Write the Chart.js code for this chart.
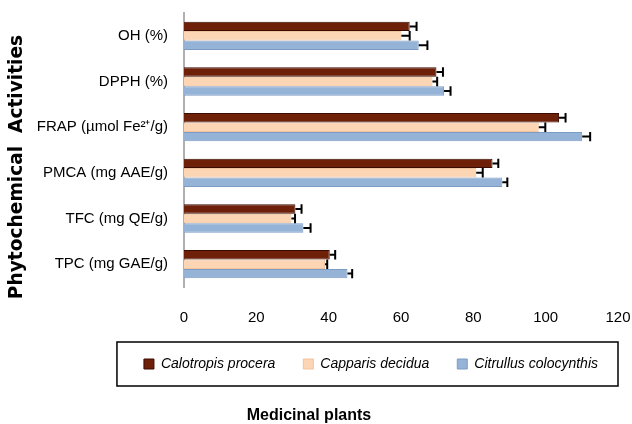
<!DOCTYPE html>
<html>
<head>
<meta charset="utf-8">
<script src="https://cdn.jsdelivr.net/npm/chart.js@4.4.1/dist/chart.umd.min.js"></script>
<style>
html,body{margin:0;padding:0;background:#fff;}
#wrap{width:632px;height:424px;}
</style>
</head>
<body>
<div id="wrap"><canvas id="c" width="632" height="424"></canvas></div>
<script>
const categories = ['OH (%)', 'DPPH (%)', 'FRAP (µmol Fe²⁺/g)', 'PMCA (mg AAE/g)', 'TFC (mg QE/g)', 'TPC (mg GAE/g)'];
const calotropis = [62.4, 69.8, 103.7, 85.3, 30.8, 40.3];
const capparis   = [60.1, 68.7, 98.1, 80.8, 29.7, 39.0];
const citrullus  = [64.9, 71.9, 110.1, 88.0, 33.0, 45.2];
const calotropisErr = [1.9, 1.8, 1.8, 1.6, 1.7, 1.5];
const capparisErr   = [2.3, 1.3, 1.8, 1.8, 1.0, 0.6];
const citrullusErr  = [2.4, 1.8, 2.2, 1.4, 2.0, 1.3];
const xTicks = [0, 20, 40, 60, 80, 100, 120];
const yAxisTitle = 'Phytochemical  Activities';
const xAxisTitle = 'Medicinal plants';

const FONT = "'Liberation Sans', Arial, sans-serif";

const errorBars = {
  id: 'errorBars',
  afterDatasetsDraw(chart) {
    const ctx = chart.ctx;
    const xs = chart.scales.x;
    chart.data.datasets.forEach((ds, i) => {
      const meta = chart.getDatasetMeta(i);
      meta.data.forEach((bar, j) => {
        const v = ds.data[j], e = ds.errors[j];
        const x0 = bar.x, x1 = xs.getPixelForValue(v + e);
        const h = bar.height;
        ctx.save();
        ctx.strokeStyle = '#000';
        ctx.lineWidth = 2;
        ctx.beginPath();
        ctx.moveTo(x0, bar.y);
        ctx.lineTo(x1, bar.y);
        ctx.moveTo(x1, bar.y - h / 2);
        ctx.lineTo(x1, bar.y + h / 2);
        ctx.stroke();
        ctx.restore();
      });
    });
  }
};

const legendShift = {
  id: 'legendShift',
  afterLayout(chart) {
    const lg = chart.legend;
    lg.right += 8;
    if (lg.legendHitBoxes) lg.legendHitBoxes.forEach(h => { h.left += 8; });
  }
};

const legendBorder = {
  id: 'legendBorder',
  afterDraw(chart) {
    const boxes = chart.legend.legendHitBoxes;
    if (!boxes || !boxes.length) return;
    let l = Infinity, r = -Infinity, t = Infinity, b = -Infinity;
    boxes.forEach(h => { l = Math.min(l, h.left); r = Math.max(r, h.left + h.width); t = Math.min(t, h.top); b = Math.max(b, h.top + h.height); });
    const ctx = chart.ctx;
    ctx.save();
    ctx.strokeStyle = '#000';
    ctx.lineWidth = 1.5;
    const cy = (t + b) / 2;
    ctx.strokeRect(l - 27, cy - 22, (r - l) + 47, 44);
    ctx.restore();
  }
};

const yTitle = {
  id: 'yTitle',
  afterDraw(chart) {
    const ctx = chart.ctx;
    const a = chart.chartArea;
    ctx.save();
    ctx.translate(17, (a.top + a.bottom) / 2 + 17);
    ctx.rotate(-Math.PI / 2);
    ctx.fillStyle = '#000';
    ctx.font = "bold 18.6px 'DejaVu Sans', sans-serif";
    ctx.textAlign = 'center';
    ctx.textBaseline = 'middle';
    ctx.fillText(yAxisTitle, 0, 0);
    ctx.restore();
  }
};

new Chart(document.getElementById('c'), {
  type: 'bar',
  data: {
    labels: categories,
    datasets: [
      { label: 'Calotropis procera', data: calotropis, errors: calotropisErr, backgroundColor: '#6e2108', borderColor: '#3a0c00', borderWidth: 1 },
      { label: 'Capparis decidua', data: capparis, errors: capparisErr, backgroundColor: '#fcd5b5', borderColor: '#f2c29c', borderWidth: 1 },
      { label: 'Citrullus colocynthis', data: citrullus, errors: citrullusErr, backgroundColor: '#95b3d7', borderColor: '#7d9cc4', borderWidth: 1 }
    ]
  },
  options: {
    indexAxis: 'y',
    responsive: false,
    animation: false,
    devicePixelRatio: 1,
    layout: { padding: { top: 13, right: 14, left: 0, bottom: 0 } },
    datasets: { bar: { categoryPercentage: 0.62, barPercentage: 1.0 } },
    scales: {
      x: {
        min: 0, max: 120,
        afterBuildTicks(scale) { scale.ticks = xTicks.map(v => ({ value: v })); },
        afterFit(scale) { scale.height = 42; scale.paddingLeft = 0; scale.paddingRight = 0; },
        grid: { display: false, drawTicks: false },
        border: { display: false },
        ticks: { color: '#000', padding: 22, font: { family: FONT, size: 15 } }
      },
      y: {
        afterFit(scale) { scale.width = 184; scale.paddingTop = 0; scale.paddingBottom = 0; },
        grid: { display: false, drawTicks: false },
        border: { display: true, color: '#b0b0b0', width: 2 },
        ticks: { color: '#000', padding: 16, font: { family: FONT, size: 15 } }
      }
    },
    plugins: {
      legend: {
        position: 'bottom',
        align: 'end',
        labels: { color: '#000', boxWidth: 10, boxHeight: 10, padding: 28, font: { family: FONT, size: 14, style: 'italic' } }
      },
      title: {
        display: true,
        position: 'bottom',
        text: xAxisTitle,
        color: '#000',
        padding: { top: 27, bottom: 0 },
        font: { family: FONT, size: 16, weight: 'bold', lineHeight: 1 }
      },
      tooltip: { enabled: false }
    }
  },
  plugins: [errorBars, legendShift, legendBorder, yTitle]
});
</script>
</body>
</html>
